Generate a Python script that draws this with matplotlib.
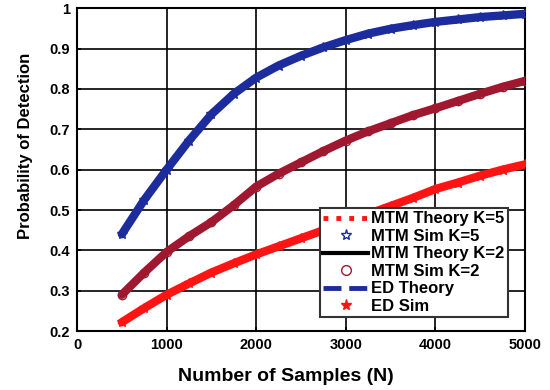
import matplotlib
matplotlib.use("Agg")
import matplotlib.pyplot as plt
from matplotlib.lines import Line2D

N = [500, 750, 1000, 1250, 1500, 1750, 2000, 2250, 2500, 2750, 3000,
     3250, 3500, 3750, 4000, 4250, 4500, 4750, 5000]
pd_mtm_k5 = [0.44, 0.525, 0.600, 0.672, 0.737, 0.788, 0.828, 0.858, 0.882, 0.903, 0.921,
             0.937, 0.949, 0.958, 0.966, 0.972, 0.978, 0.982, 0.986]
pd_mtm_k2 = [0.29, 0.345, 0.396, 0.435, 0.47, 0.512, 0.558, 0.59, 0.618, 0.646, 0.672,
             0.695, 0.715, 0.735, 0.752, 0.77, 0.788, 0.805, 0.82]
pd_ed = [0.222, 0.257, 0.29, 0.318, 0.345, 0.368, 0.39, 0.41, 0.43, 0.45, 0.47,
         0.49, 0.51, 0.53, 0.552, 0.568, 0.585, 0.60, 0.613]

xticks = [0, 1000, 2000, 3000, 4000, 5000]
yticks = [0.2, 0.3, 0.4, 0.5, 0.6, 0.7, 0.8, 0.9, 1.0]
yticklabels = ["0.2", "0.3", "0.4", "0.5", "0.6", "0.7", "0.8", "0.9", "1"]
labels = ["MTM Theory K=5", "MTM Sim K=5", "MTM Theory K=2",
          "MTM Sim K=2", "ED Theory", "ED Sim"]

plt.rcParams['font.family'] = ['Liberation Sans', 'DejaVu Sans']
plt.rcParams['font.weight'] = 'bold'

BLUE = '#1c2c9c'
DRED = '#a01830'
RED = '#ff1414'

fig = plt.figure(figsize=(5.5, 3.9), dpi=100)
ax = fig.add_axes([0.14, 0.151, 0.8145, 0.828])

# theory curves (hidden underneath)
ax.plot(N, pd_mtm_k5, color=RED, ls=':', lw=2, zorder=2)
ax.plot(N, pd_mtm_k2, color='black', lw=2, zorder=2)
ax.plot(N, pd_ed, color=BLUE, ls='--', lw=2, zorder=2)

# simulation bands
kw = dict(lw=6, zorder=3, solid_capstyle='round', solid_joinstyle='round')
ax.plot(N, pd_mtm_k5, color=BLUE, marker='*', ms=7, mec=BLUE, mfc='none', **kw)
ax.plot(N, pd_mtm_k2, color=DRED, marker='o', ms=6, mec=DRED, mfc='none', **kw)
ax.plot(N, pd_ed, color=RED, marker='*', ms=7, mec=RED, mfc=RED, **kw)

ax.set_xlim(0, 5000)
ax.set_ylim(0.2, 1.0)
ax.set_xticks(xticks)
ax.set_yticks(yticks)
ax.set_yticklabels(yticklabels)
ax.grid(True, color='black', lw=1.2)
ax.set_axisbelow(True)
for s in ax.spines.values():
    s.set_linewidth(1.5)
ax.tick_params(labelsize=10.5, length=3, width=1.2, direction='in', pad=5)
for t in ax.get_xticklabels() + ax.get_yticklabels():
    t.set_fontweight('bold')

ax.set_xlabel("Number of Samples (N)", fontsize=14, fontweight='bold')
ax.xaxis.set_label_coords(0.467, -0.113)
ax.set_ylabel("Probability of Detection", fontsize=12, fontweight='bold')
ax.yaxis.set_label_coords(-0.098, 0.573)

handles = [
    Line2D([], [], color=RED, ls=':', lw=3.5),
    Line2D([], [], color=BLUE, ls='none', marker='*', ms=8, mfc='none'),
    Line2D([], [], color='black', lw=3),
    Line2D([], [], color=DRED, ls='none', marker='o', ms=7, mfc='none'),
    Line2D([], [], color=BLUE, ls='--', lw=3.5),
    Line2D([], [], color=RED, ls='none', marker='*', ms=8),
]
leg = ax.legend(handles, labels, loc='lower right', bbox_to_anchor=(0.962, 0.043),
                prop={'weight': 'bold', 'size': 12}, fancybox=False, framealpha=1,
                edgecolor='#333333', handlelength=2.7, handletextpad=0.2,
                labelspacing=0.15, borderpad=0.2, borderaxespad=0)
leg.get_frame().set_linewidth(1.5)

fig.savefig("out.png", dpi=100)
